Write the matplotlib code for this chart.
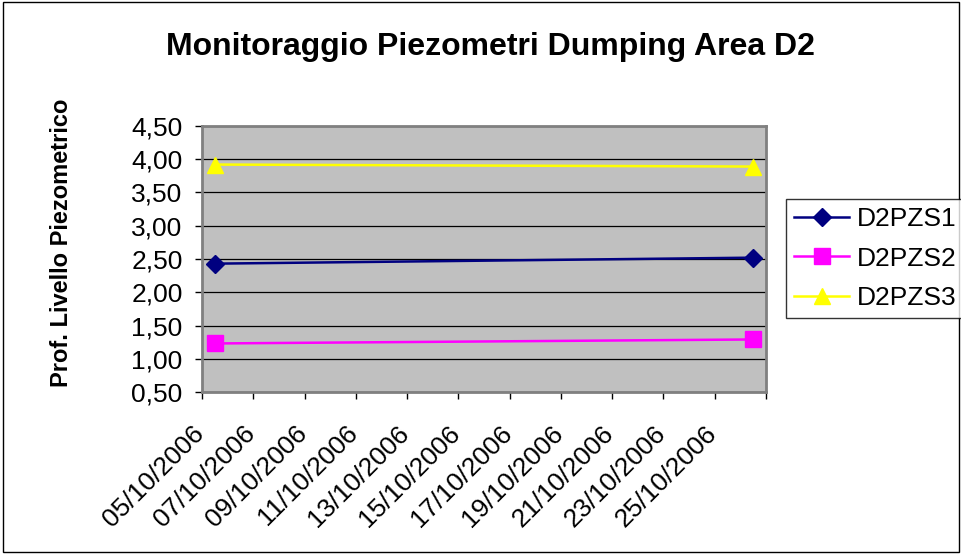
import matplotlib
matplotlib.use("Agg")
import matplotlib.pyplot as plt
import matplotlib.dates as mdates
import matplotlib.transforms as mtransforms
from matplotlib.ticker import FixedLocator, FuncFormatter
from matplotlib.patches import Rectangle
import datetime as dt

plt.rcParams['font.family'] = ['Liberation Sans', 'DejaVu Sans']

title = "Monitoraggio Piezometri Dumping Area D2"
ylabel = "Prof. Livello Piezometrico"
dates = [dt.datetime(2006, 10, 5), dt.datetime(2006, 10, 26)]
series_names = ["D2PZS1", "D2PZS2", "D2PZS3"]
d2pzs1 = [2.43, 2.52]
d2pzs2 = [1.23, 1.29]
d2pzs3 = [3.92, 3.89]
yticks = [0.5, 1.0, 1.5, 2.0, 2.5, 3.0, 3.5, 4.0, 4.5]

fig = plt.figure(figsize=(9.62, 5.54), dpi=100)
fig.patches.append(Rectangle((0.003, 0.004), 0.994, 0.992, transform=fig.transFigure,
                             fill=False, edgecolor='black', linewidth=1))
ax = fig.add_axes([0.21, 0.2924, 0.586, 0.4802])
ax.set_facecolor('#C0C0C0')

# Excel date axis: points centred in day slots
half = dt.timedelta(hours=12)
xs = [d + half for d in dates]
ax.plot(xs, d2pzs1, color='#000080', marker='D', markersize=9, linewidth=1.8, label=series_names[0], zorder=3)
ax.plot(xs, d2pzs2, color='#FF00FF', marker='s', markersize=11.5, linewidth=1.8, label=series_names[1], zorder=3)
ax.plot(xs, d2pzs3, color='#FFFF00', marker='^', markersize=12, linewidth=1.8, label=series_names[2], zorder=3)

x0 = dt.datetime(2006, 10, 5)
x1 = dt.datetime(2006, 10, 27)
ax.set_xlim(x0, x1)
ticks = [x0 + dt.timedelta(days=2 * i) for i in range(12)]
ax.xaxis.set_major_locator(FixedLocator(mdates.date2num(ticks)))
ax.xaxis.set_major_formatter(FuncFormatter(lambda v, p: ''))
labels = [t.strftime('%d/%m/%Y') for t in ticks[:-1]]
lab_trans = ax.get_xaxis_transform() + mtransforms.ScaledTranslation(-0.10, -0.29, fig.dpi_scale_trans)
for t, lab in zip(ticks[:-1], labels):
    ax.text(mdates.date2num(t), 0, lab, transform=lab_trans, rotation=45,
            ha='right', va='top', rotation_mode='anchor', fontsize=19, clip_on=False)

ax.set_ylim(0.5, 4.5)
ax.set_yticks(yticks)
ax.yaxis.set_major_formatter(FuncFormatter(lambda v, p: f"{v:.2f}".replace('.', ',')))
ax.tick_params(axis='y', labelsize=19, direction='out', length=5, width=1, pad=9)
ax.tick_params(axis='x', direction='out', length=5, width=1)
ax.grid(axis='y', color='black', linewidth=0.9)
ax.set_axisbelow(True)
for s in ['top', 'right', 'left', 'bottom']:
    ax.spines[s].set_color('#808080')
    ax.spines[s].set_linewidth(2)

ax.set_ylabel(ylabel, fontsize=17, fontweight='bold')
ax.yaxis.set_label_coords(-0.229, 0.56)

fig.text(0.51, 0.915, title, ha='center', va='center', fontsize=23, fontweight='bold')

leg = fig.legend(loc='upper left', bbox_to_anchor=(0.817, 0.640), fontsize=19,
                 frameon=True, fancybox=False, edgecolor='black', borderpad=0.3,
                 handlelength=2.1, handletextpad=0.27, labelspacing=0.58, borderaxespad=0)
leg.get_frame().set_linewidth(1)

fig.savefig('out.png', dpi=100)
